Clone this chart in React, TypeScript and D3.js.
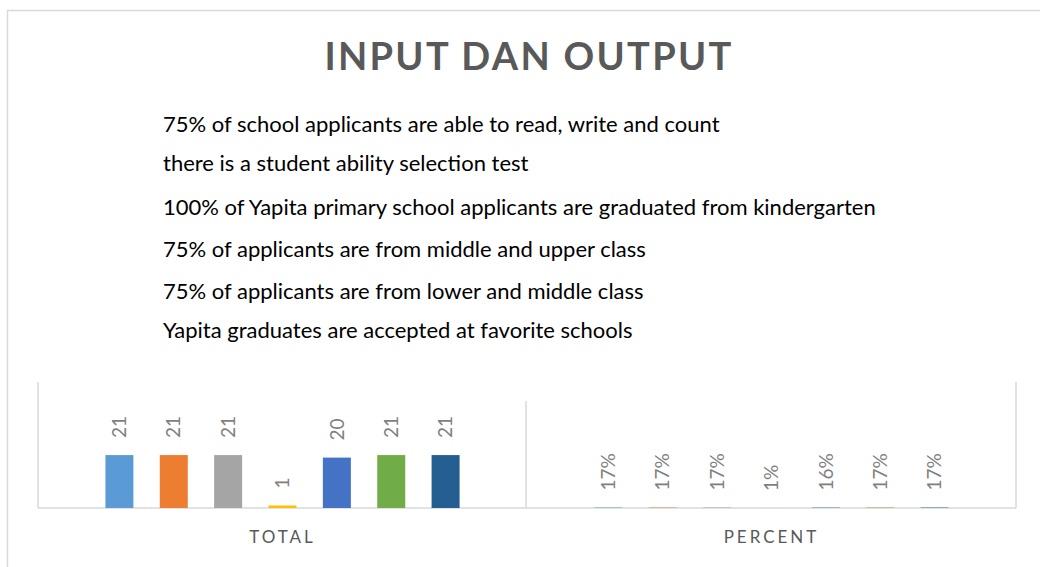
import React from "react";
import * as d3 from "d3";

const categories = ["TOTAL", "PERCENT"];
const seriesNames = ["S1", "S2", "S3", "S4", "S5", "S6", "S7"];
const totalValues = [21, 21, 21, 1, 20, 21, 21];
const percentValues = [0.17, 0.17, 0.17, 0.01, 0.16, 0.17, 0.17];
const legendLabels = [
  "75% of school applicants are able to read, write and count",
  "there is a student ability selection test",
  "100% of Yapita primary school applicants are graduated from kindergarten",
  "75% of applicants are from middle and upper class",
  "75% of applicants are from lower and middle class",
  "Yapita graduates are accepted at favorite schools",
];
const colors = ["#5B9BD5", "#ED7D31", "#A5A5A5", "#FFC000", "#4472C4", "#70AD47", "#255E91"];

const W = 1040;
const H = 567;
const font = "Lato, 'Open Sans', sans-serif";

export default function App() {
  const x0 = d3.scaleBand().domain(categories).range([38, 1016]);
  const x1 = d3.scaleBand().domain(seriesNames).range([0, x0.bandwidth()])
    .paddingInner(0.485).paddingOuter(1.24);
  const y = d3.scaleLinear().domain([0, 50]).range([508, 382]);
  const color = d3.scaleOrdinal<string, string>().domain(seriesNames).range(colors);

  const rows = categories.map((c, ci) => ({
    cat: c,
    vals: seriesNames.map((s, si) => ({
      s,
      v: ci === 0 ? totalValues[si] : percentValues[si],
      label: ci === 0 ? String(totalValues[si]) : d3.format(".0%")(percentValues[si]),
    })),
  }));

  const legendY = [132, 171, 215, 257, 299, 338];

  return (
    <div style={{ position: "absolute", left: 0, top: 0 }}>
      <svg width={W} height={H} style={{ display: "block" }}>
        <rect x={0} y={0} width={W} height={H} fill="#fff" />
        <rect x={7.5} y={10.5} width={W + 20} height={H + 20} fill="#fff" stroke="#d9d9d9" strokeWidth={1.5} />
        <text x={529} y={70} textAnchor="middle" fontFamily={font} fontWeight={700}
          fontSize={38} letterSpacing={2.3} fill="#595959">INPUT DAN OUTPUT</text>

        {legendLabels.map((t, i) => (
          <text key={i} x={163} y={legendY[i]} fontFamily={font} fontSize={22} fill="#000">{t}</text>
        ))}

        {/* axis lines */}
        <g stroke="#d9d9d9" strokeWidth={1.5}>
          <line x1={38} x2={38} y1={382} y2={508} />
          <line x1={1016} x2={1016} y1={382} y2={508} />
          <line x1={526} x2={526} y1={401} y2={508} />
          <line x1={38} x2={1016} y1={508} y2={508} />
        </g>

        {rows.map(r => (
          <g key={r.cat} transform={`translate(${x0(r.cat)},0)`}>
            {r.vals.map(d => (
              <rect key={d.s} x={x1(d.s)} width={x1.bandwidth()} y={y(d.v)}
                height={y(0) - y(d.v)} fill={color(d.s)} />
            ))}
            {r.vals.map(d => {
              const cx = (x1(d.s) ?? 0) + x1.bandwidth() / 2;
              const cy = y(d.v) - 17;
              return (
                <text key={d.s} transform={`translate(${cx},${cy}) rotate(-90)`} dy="0.35em"
                  fontFamily={font} fontSize={19} fill="#7f7f7f">{d.label}</text>
              );
            })}
            <text x={x0.bandwidth() / 2} y={543} textAnchor="middle" fontFamily={font}
              fontSize={17} letterSpacing={3} fill="#595959">{r.cat}</text>
          </g>
        ))}
      </svg>
    </div>
  );
}
